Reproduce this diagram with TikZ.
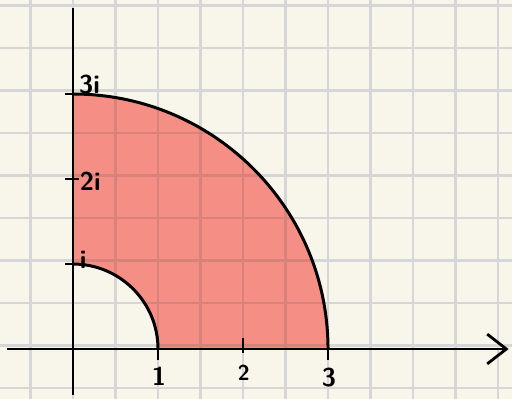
\documentclass[tikz,border=0pt]{standalone}
\usetikzlibrary{arrows.meta}
\definecolor{paper}{HTML}{F8F6EB}
\definecolor{salmon}{HTML}{F58E84}
\definecolor{gridgray}{HTML}{D6D6D6}
\definecolor{gridpink}{HTML}{D98279}

\begin{document}
\begin{tikzpicture}[
    gridline/.style={gridgray,line width=1.5pt},
    axisline/.style={black,line width=1.9pt},
    curve/.style={black,line width=2pt},
    ticklbl/.style={font=\sffamily\bfseries\LARGE,inner sep=1pt}
  ]
        \useasboundingbox (-1.718,-1.176) rectangle (10.329,8.212);
        \fill[paper] (-1.718,-1.176) rectangle (10.329,8.212);
        % grid on the paper
        \foreach \x in {-1,...,10}
          \draw[gridline] (\x,-1.3) -- (\x,8.3);
        \foreach \y in {-1,...,8}
          \draw[gridline] (-1.8,\y+0.08) -- (10.4,\y+0.08);
        % shaded region, grid seen through it
        \begin{scope}
          \clip (2,0) -- (6,0) arc[start angle=0,end angle=90,radius=6]
            -- (0,2) arc[start angle=90,end angle=0,radius=2] -- cycle;
          \fill[salmon] (0,0) rectangle (6,6);
          \foreach \x in {0,...,6}
            \draw[gridline,gridpink] (\x,0) -- (\x,6);
          \foreach \y in {0,...,5}
            \draw[gridline,gridpink] (0,\y+0.08) -- (6,\y+0.08);
        \end{scope}
        \coordinate (xstart) at (-1.55,0);
        \coordinate (xend) at (10.25,0);
        \coordinate (ystart) at (0,-1.08);
        \coordinate (yend) at (0,8.03);
        \draw[axisline,-{Straight Barb[length=0.45cm,width=0.7cm]}] (xstart) -- (xend);
        \draw[axisline] (ystart) -- (yend);
        \draw[curve] (2,0) arc[start angle=0,end angle=90,radius=2];
        \draw[curve] (6,0) arc[start angle=0,end angle=90,radius=6];
        \draw[axisline] (-0.18,6) -- (0.15,6);
        \draw[axisline] (-0.18,4) -- (0.15,4);
        \draw[axisline] (-0.18,2) -- (0.1,2);
        \draw[axisline] (2,0.2) -- (2,-0.26);
        \draw[axisline] (4,0.26) -- (4,-0.1);
        \draw[axisline] (6,0) -- (6,-0.25);
        \node[ticklbl,anchor=south west] (l3i) at (0.1,5.95) {3i};
        \node[ticklbl,anchor=west] (l2i) at (0.12,3.95) {2i};
        \node[ticklbl,anchor=south west] (li) at (0.12,1.85) {i};
        \node[ticklbl] (l1) at (2.02,-0.64) {1};
        \node[ticklbl,font=\sffamily\bfseries\Large] (l2) at (4.02,-0.56) {2};
        \node[ticklbl] (l3) at (6.02,-0.68) {3};
      \end{tikzpicture}
\end{document}
